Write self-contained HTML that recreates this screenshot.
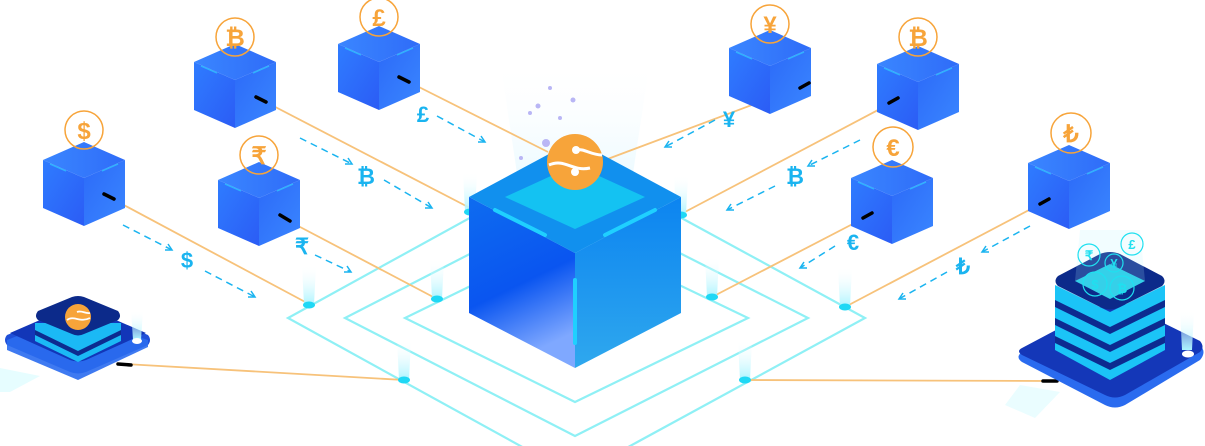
<!DOCTYPE html>
<html><head><meta charset="utf-8"><style>
html,body{margin:0;padding:0;background:#fff;width:1205px;height:446px;overflow:hidden}
svg{display:block}
text{font-family:"Liberation Sans",sans-serif;font-weight:bold}
</style></head><body>
<svg width="1205" height="446" viewBox="0 0 1205 446" xmlns="http://www.w3.org/2000/svg">
<defs>
<linearGradient id="cl" x1="0" y1="0" x2="1" y2="1"><stop offset="0" stop-color="#2f7cff"/><stop offset="1" stop-color="#2b5cf5"/></linearGradient>
<linearGradient id="cr" x1="0" y1="0" x2="1" y2="1"><stop offset="0" stop-color="#2c6af8"/><stop offset="1" stop-color="#3a86ff"/></linearGradient>
<linearGradient id="ct" x1="0" y1="0" x2="1" y2="0"><stop offset="0" stop-color="#3a86ff"/><stop offset="1" stop-color="#2f6cf8"/></linearGradient>
<linearGradient id="bl" x1="0" y1="0" x2="0.3" y2="1"><stop offset="0" stop-color="#0e6cf0"/><stop offset=".6" stop-color="#0a55f0"/><stop offset="1" stop-color="#7fa8ff"/></linearGradient>
<linearGradient id="br" x1="0" y1="0" x2="0" y2="1"><stop offset="0" stop-color="#0c84f0"/><stop offset="1" stop-color="#2fa8ee"/></linearGradient>
<linearGradient id="beam" x1="0" y1="1" x2="0" y2="0"><stop offset="0" stop-color="#aaf4ff"/><stop offset="1" stop-color="#ffffff" stop-opacity="0"/></linearGradient>
<linearGradient id="bigbeam" x1="0" y1="1" x2="0" y2="0"><stop offset="0" stop-color="#b8ecff"/><stop offset="1" stop-color="#fff" stop-opacity="0"/></linearGradient>
<g id="cube">
<polygon points="-41,18 0,36 0,84 -41,66" fill="url(#cl)"/>
<polygon points="41,18 0,36 0,84 41,66" fill="url(#cr)"/>
<polygon points="0,0 41,18 0,36 -41,18" fill="url(#ct)"/>
<line x1="-34" y1="22" x2="-18" y2="29" stroke="#2fd0ff" stroke-width="1.5" opacity=".7"/>
<line x1="34" y1="22" x2="18" y2="29" stroke="#2fd0ff" stroke-width="1.5" opacity=".7"/>
</g>
<g id="beamnode">
<polygon points="-7,-40 7,-40 5,0 -5,0" fill="url(#beam)"/>
<ellipse cx="0" cy="0" rx="6" ry="3.5" fill="#1fd8f5"/>
</g>
</defs>

<polygon points="500,60 650,60 620,260 530,260" fill="url(#bigbeam)" opacity=".8"/>

<g fill="none" stroke="#8ff0f5" stroke-width="2.2">
<polygon points="575,160 865,318 575,476 288,318"/>
<polygon points="575,200 808,318 575,436 345,318"/>
<polygon points="575,235 748,318 575,402 405,318"/>
</g>

<g stroke="#f7c27a" stroke-width="1.8" fill="none">
<line x1="107" y1="196" x2="309" y2="304"/>
<line x1="283" y1="218" x2="437" y2="299"/>
<line x1="258" y1="98" x2="470" y2="208"/>
<line x1="401" y1="78" x2="548" y2="152"/>
<line x1="800" y1="87" x2="605" y2="160"/>
<line x1="897" y1="100" x2="683" y2="213"/>
<line x1="870" y1="215" x2="712" y2="297"/>
<line x1="1048" y1="200" x2="845" y2="307"/>
<line x1="125" y1="364" x2="404" y2="380"/>
<line x1="745" y1="380" x2="1050" y2="381"/>
</g>

<use href="#beamnode" x="309" y="305"/>
<use href="#beamnode" x="437" y="299"/>
<use href="#beamnode" x="404" y="380"/>
<use href="#beamnode" x="712" y="297"/>
<use href="#beamnode" x="845" y="307"/>
<use href="#beamnode" x="745" y="380"/>
<use href="#beamnode" x="470" y="212"/>
<use href="#beamnode" x="681" y="215"/>

<polygon points="469,197 575,253 575,368 469,313" fill="url(#bl)"/>
<polygon points="681,197 575,253 575,368 681,313" fill="url(#br)"/>
<polygon points="575,140 681,197 575,253 469,197" fill="#1190ee"/>
<polygon points="575,165 645,197 575,229 505,197" fill="#14c2f2"/>
<line x1="495" y1="210" x2="545" y2="235" stroke="#1fd0ff" stroke-width="4" stroke-linecap="round"/>
<line x1="655" y1="210" x2="605" y2="235" stroke="#1fd0ff" stroke-width="4" stroke-linecap="round"/>
<line x1="575" y1="280" x2="575" y2="343" stroke="#1fd0ff" stroke-width="4" stroke-linecap="round"/>
<circle cx="575" cy="162" r="28" fill="#f7a43a"/>
<path d="M549,165 C565,158 572,172 590,168" stroke="#fff" stroke-width="3" fill="none"/>
<path d="M575,150 C585,148 590,155 602,155" stroke="#fff" stroke-width="3" fill="none"/>
<circle cx="576" cy="150" r="4" fill="#fff"/><circle cx="575" cy="172" r="4" fill="#fff"/>
<g fill="#b9b6f5"><circle cx="546" cy="143" r="4"/><circle cx="521" cy="158" r="2"/><circle cx="538" cy="106" r="2.5"/><circle cx="560" cy="118" r="2"/><circle cx="573" cy="100" r="2.5"/><circle cx="550" cy="88" r="2"/><circle cx="530" cy="113" r="2"/></g>

<use href="#cube" x="84" y="142"/>
<use href="#cube" x="259" y="162"/>
<use href="#cube" x="235" y="44"/>
<use href="#cube" x="379" y="26"/>
<use href="#cube" x="770" y="30"/>
<use href="#cube" x="918" y="46"/>
<use href="#cube" x="892" y="160"/>
<use href="#cube" x="1069" y="145"/>

<g stroke="#000" stroke-width="3.5" stroke-linecap="round">
<line x1="104" y1="194" x2="114" y2="199"/>
<line x1="280" y1="215" x2="290" y2="221"/>
<line x1="256" y1="97" x2="266" y2="102"/>
<line x1="399" y1="77" x2="409" y2="82"/>
<line x1="800" y1="88" x2="809" y2="83"/>
<line x1="889" y1="103" x2="898" y2="98"/>
<line x1="863" y1="218" x2="872" y2="213"/>
<line x1="1040" y1="204" x2="1049" y2="199"/>
<line x1="118" y1="364" x2="131" y2="365"/>
<line x1="1043" y1="381" x2="1057" y2="381"/>
</g>

<g fill="none" stroke="#f7a43a" stroke-width="1.5">
<circle cx="84" cy="130" r="19"/><circle cx="259" cy="155" r="19"/><circle cx="235" cy="37" r="19"/><circle cx="379" cy="17" r="19"/>
<circle cx="770" cy="24" r="19"/><circle cx="918" cy="37" r="19"/><circle cx="893" cy="147" r="20"/><circle cx="1071" cy="133" r="20"/>
</g>
<g fill="#f7a43a" font-size="24" text-anchor="middle">
<text x="84" y="139">$</text><text x="259" y="164">₹</text><text x="235" y="46">₿</text><text x="379" y="26">£</text>
<text x="770" y="33">¥</text><text x="918" y="46">₿</text><text x="893" y="156">€</text><text x="1071" y="142">₺</text>
</g>

<g stroke="#1ab4f0" stroke-width="1.5" stroke-dasharray="7,5" fill="none">
<line x1="123" y1="225" x2="172" y2="250"/><line x1="205" y1="271" x2="255" y2="297"/>
<line x1="300" y1="138" x2="352" y2="164"/><line x1="384" y1="180" x2="432" y2="208"/>
<line x1="437" y1="116" x2="485" y2="142"/>
<line x1="315" y1="255" x2="351" y2="272"/>
<line x1="715" y1="120" x2="665" y2="147"/>
<line x1="860" y1="140" x2="808" y2="166"/><line x1="775" y1="186" x2="727" y2="210"/>
<line x1="835" y1="246" x2="800" y2="268"/>
<line x1="1030" y1="226" x2="982" y2="252"/><line x1="947" y1="272" x2="899" y2="299"/>
</g>
<g stroke="#1ab4f0" stroke-width="1.5" fill="none">
<polyline points="165,250 172,250 168,244"/><polyline points="248,297 255,297 251,291"/>
<polyline points="345,164 352,164 348,158"/><polyline points="425,208 432,208 428,202"/>
<polyline points="478,142 485,142 481,136"/><polyline points="344,272 351,272 347,266"/>
<polyline points="672,147 665,147 669,141"/><polyline points="815,166 808,166 812,160"/>
<polyline points="734,210 727,210 731,204"/><polyline points="807,268 800,268 804,262"/>
<polyline points="989,252 982,252 986,246"/><polyline points="906,299 899,299 903,293"/>
</g>
<g fill="#1ab4f0" font-size="22" text-anchor="middle">
<text x="187" y="268">$</text><text x="366" y="184">₿</text><text x="423" y="122">£</text><text x="302" y="254">₹</text>
<text x="729" y="127">¥</text><text x="795" y="184">₿</text><text x="853" y="250">€</text><text x="963" y="274">₺</text>
</g>

<!-- left platform -->
<polygon points="0,368 40,376 10,392 0,392" fill="#d6fbff" opacity=".6"/>
<path d="M7,335 L70,310 Q78,307 86,310 L148,335 Q152,340 148,345 L86,372 Q78,375 70,372 L7,345 Q3,340 7,335Z" fill="#1f4fd8"/>
<path d="M7,340 L70,315 L148,340 L148,347 L78,380 L7,350Z" fill="#2a6bef" opacity=".9"/>
<path d="M10,333 L70,307 Q78,304 86,307 L146,333 L86,360 Q78,363 70,360Z" fill="#1236b8"/>
<path d="M35,323 L35,341 L78,362 L121,341 L121,323 Z" fill="#1bb9f5"/>
<path d="M35,330 L78,351 L121,330 L121,335 L78,356 L35,335Z" fill="#0d2b90"/>
<path d="M38,311 L72,297 Q78,295 84,297 L118,311 Q122,316 118,320 L84,334 Q78,337 72,334 L38,320 Q34,316 38,311Z" fill="#0c2a8a"/>
<circle cx="78" cy="317" r="13" fill="#f7a43a"/>
<path d="M67,320 C74,315 80,323 90,318 M77,312 C82,310 85,314 90,313" stroke="#fff" stroke-width="1.8" fill="none"/>
<polygon points="131,310 143,310 141,340 133,340" fill="url(#beam)"/>
<ellipse cx="137" cy="341" rx="5" ry="3" fill="#fff"/>

<!-- right server -->
<polygon points="1020,385 1060,392 1035,418 1005,405" fill="#d6fbff" opacity=".5"/>
<path d="M1022,352 L1105,308 Q1115,303 1125,308 L1200,345 Q1207,352 1200,360 L1125,405 Q1115,410 1105,405 L1022,362 Q1015,357 1022,352Z" fill="#2a6bef"/>
<path d="M1022,348 L1105,304 Q1115,300 1125,304 L1200,341 Q1205,347 1200,352 L1125,395 Q1115,400 1105,395 L1022,355 Q1016,351 1022,348Z" fill="#1437b8"/>
<polygon points="1055,285 1055,350 1110,380 1165,350 1165,285 1110,312" fill="#1bc4f7"/>
<g fill="#0d2b90">
<polygon points="1055,300 1110,327 1165,300 1165,307 1110,334 1055,307"/>
<polygon points="1055,318 1110,345 1165,318 1165,325 1110,352 1055,325"/>
<polygon points="1055,336 1110,363 1165,336 1165,343 1110,370 1055,343"/>
</g>
<path d="M1058,276 L1100,254 Q1110,250 1120,254 L1162,276 Q1167,281 1162,286 L1120,307 Q1110,312 1100,307 L1058,286 Q1053,281 1058,276Z" fill="#0c2a8a"/>
<polygon points="1075,281 1110,264 1145,281 1110,299" fill="#19c9e4"/>
<polygon points="1080,230 1140,230 1145,281 1110,299 1075,281" fill="#b8f4ff" opacity=".18"/>
<g fill="none" stroke="#1fe0f0" stroke-width="1.2"><circle cx="1089" cy="255" r="11"/><circle cx="1114" cy="263" r="9"/><circle cx="1132" cy="244" r="11"/><circle cx="1095" cy="284" r="12"/><circle cx="1122" cy="288" r="12"/></g>
<g fill="#1fe0f0" font-size="13" text-anchor="middle"><text x="1089" y="260">₹</text><text x="1114" y="268">¥</text><text x="1132" y="249">£</text><text x="1095" y="289">$</text><text x="1122" y="293">₿</text></g>
<polygon points="1180,310 1194,310 1192,350 1182,350" fill="url(#beam)"/>
<ellipse cx="1188" cy="354" rx="6" ry="3.5" fill="#fff"/>
</svg>
</body></html>
